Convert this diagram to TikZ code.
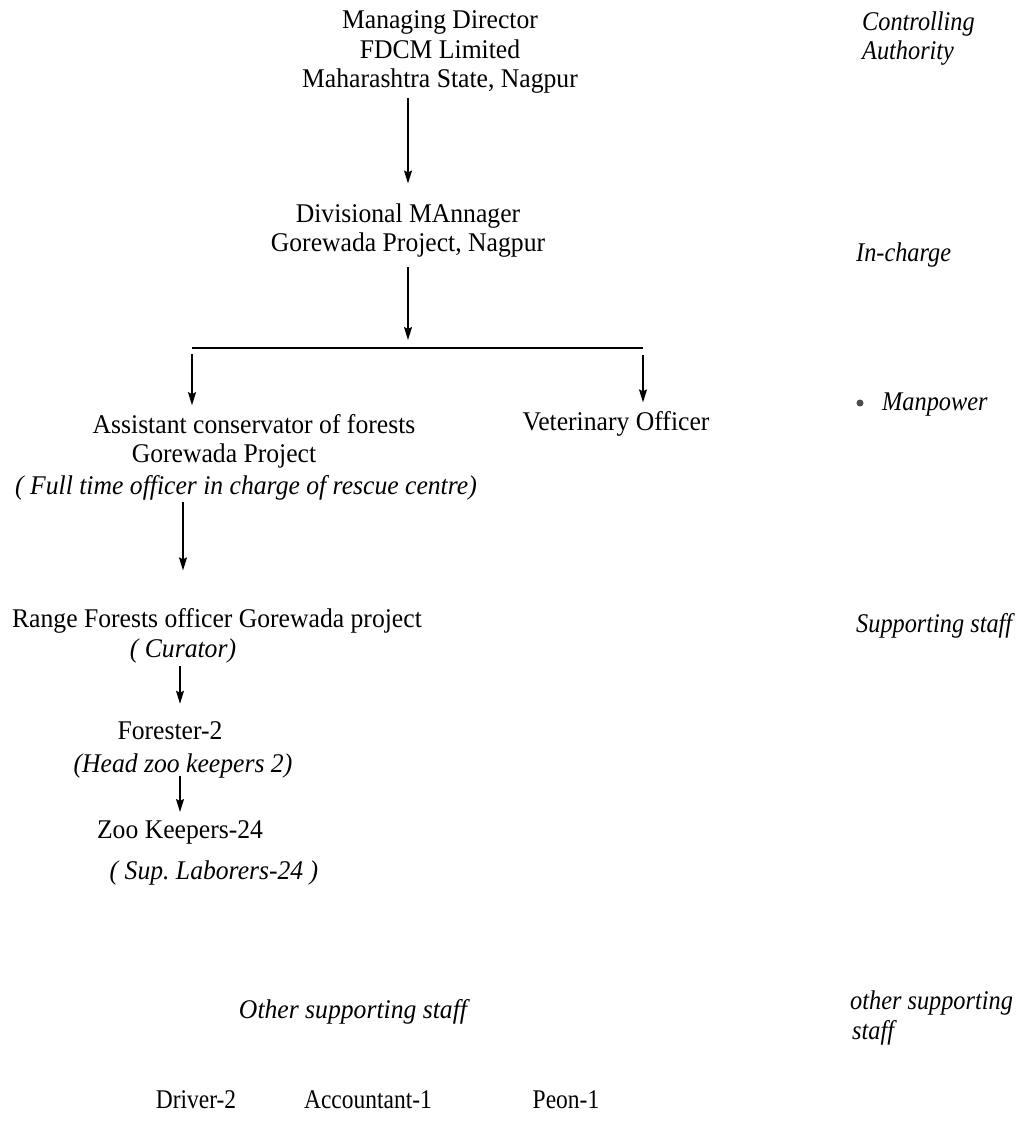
\documentclass[tikz,border=0pt]{standalone}
\usepackage{fontspec}
\setmainfont{Liberation Serif}
\newfontfamily\mainfnt[FakeStretch=0.95]{Liberation Serif}
\newfontfamily\sidefnt[FakeStretch=0.9]{Liberation Serif}
\newfontfamily\narrowfnt[FakeStretch=0.87]{Liberation Serif}
\usetikzlibrary{arrows.meta}
\begin{document}
\frenchspacing
\begin{tikzpicture}[x=1pt,y=-1pt,
  lbl/.style={inner sep=0pt, font=\fontsize{27}{31}\selectfont\mainfnt},
  itl/.style={inner sep=0pt, font=\fontsize{27}{31}\selectfont\mainfnt\itshape},
  nrw/.style={inner sep=0pt, font=\fontsize{27}{31}\selectfont\narrowfnt},
  side/.style={inner sep=0pt, anchor=west, font=\fontsize{27}{31}\selectfont\sidefnt\itshape},
  arr/.style={line width=1.3pt, -{Stealth[length=13pt,width=8pt,inset=2pt]}}]
\useasboundingbox[fill=white] (0,0) rectangle (1025,1123);
% main column
\node[lbl, anchor=base] (md1) at (440,29) {Managing Director};
\node[lbl, anchor=base] (md2) at (440,58.5) {FDCM Limited};
\node[lbl, anchor=base] (md3) at (440,88) {Maharashtra State, Nagpur};
\node[lbl] (dm1) at (408,216) {Divisional MAnnager};
\node[lbl] (dm2) at (408,245) {Gorewada Project, Nagpur};
\coordinate (bl) at (192,348);
\coordinate (bm) at (408,348);
\coordinate (br) at (643,348);
\node[lbl] (ac1) at (254,424) {Assistant conservator of forests};
\node[lbl] (ac2) at (224,456) {Gorewada Project};
\node[itl] (ac3) at (246,488) {( Full time officer in charge of rescue centre)};
\node[lbl] (vo) at (616,424) {Veterinary Officer};
\node[lbl] (rf1) at (217,621) {Range Forests officer Gorewada project};
\node[itl] (rf2) at (183,651) {( Curator)};
\node[lbl] (fo1) at (170,731) {Forester-2};
\node[itl] (fo2) at (183,766) {(Head zoo keepers 2)};
\node[lbl] (zk) at (180,832) {Zoo Keepers-24};
\node[itl] (sl) at (214,873) {( Sup.\ Laborers-24 )};
\node[itl] (os) at (353,1012) {Other supporting staff};
\node[nrw] (dr) at (196,1100) {Driver-2};
\node[nrw] (acc) at (368,1100) {Accountant-1};
\node[nrw] (pe) at (566,1100) {Peon-1};
% connectors
\draw[arr] ([yshift=-4pt]md3.south -| dm1) -- ([yshift=20pt]dm1.north);
\draw[arr] ([yshift=-10pt]dm2.south) -- ([yshift=8pt]bm);
\draw[line width=1.6pt] (bl) -- (br);
\draw[arr] ([yshift=-6pt]bl) -- ([yshift=9pt]ac1.north -| bl);
\draw[arr] ([yshift=-7pt]br) -- ([yshift=9pt]vo.north -| br);
\draw[arr] ([yshift=-1pt]ac3.south -| rf2) -- ([yshift=38pt]rf1.north -| rf2);
\draw[arr] ([yshift=-3pt]rf2.south -| zk) -- ([yshift=18pt]fo1.north -| zk);
\draw[arr] ([yshift=2pt]fo2.south -| zk) -- ([yshift=8pt]zk.north);
% side column
\node[side] (s1) at (862,24) {Controlling};
\node[side] (s2) at (862,53) {Authority};
\node[side] (s3) at (856,255) {In-charge};
\node[inner sep=0pt, circle, fill=black!70, minimum size=7pt] (bul) at (860,403) {};
\node[side] (s4) at (882,405) {Manpower};
\node[side] (s5) at (856,626) {Supporting staff};
\node[side] (s6) at (850,1003) {other supporting};
\node[side] (s7) at (852,1033) {staff};
\end{tikzpicture}
\end{document}
